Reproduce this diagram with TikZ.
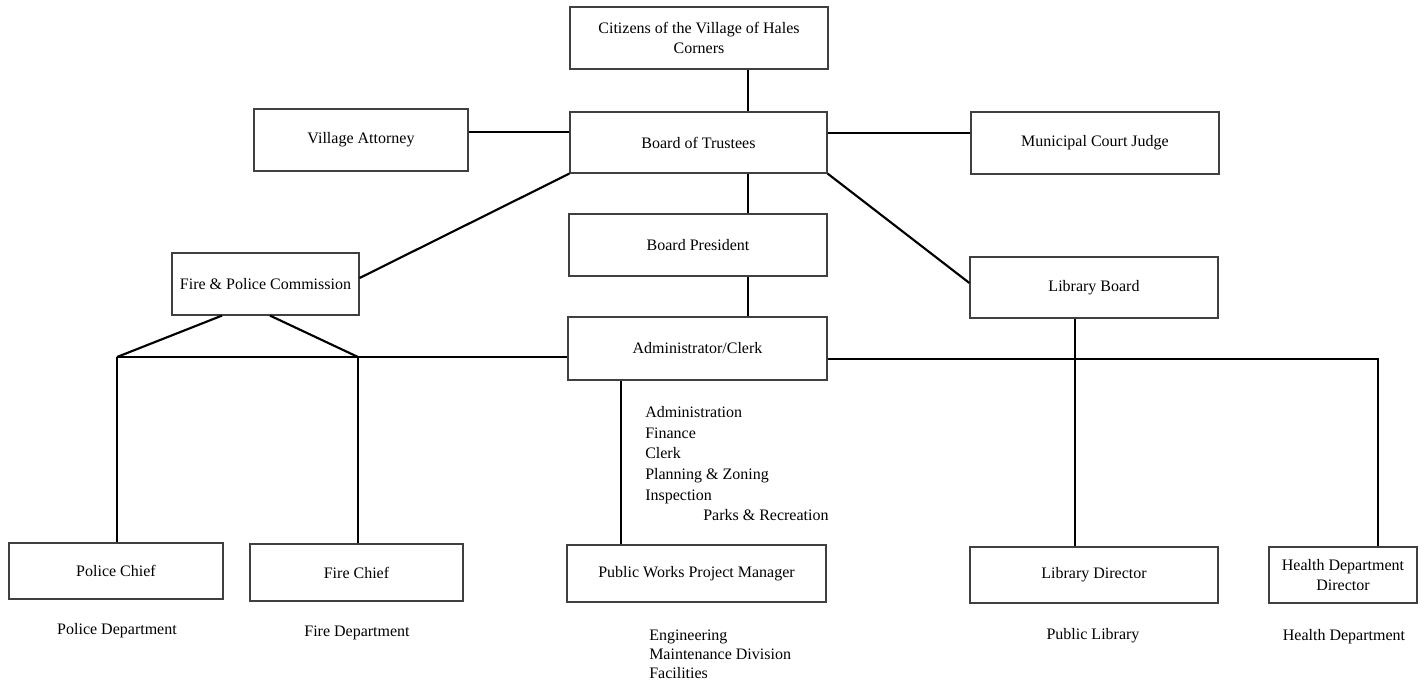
\documentclass[tikz,border=0pt]{standalone}
\usepackage{fontspec}
\setmainfont{Liberation Serif}
\begin{document}
\begin{tikzpicture}[x=0.75pt,y=-0.75pt,
        office/.style={draw=black!75,line width=0.9pt,align=center,inner sep=2pt,font=\fontsize{12}{15.5}\selectfont},
        link/.style={line width=1.6pt,black,line join=miter},
        note/.style={inner sep=0pt,font=\fontsize{12}{15.5}\selectfont}]
        \useasboundingbox (0,0) rectangle (1424,685);
        \coordinate (spine) at (748,0);
        \coordinate (pbus) at (117,357);
        \coordinate (fbus) at (358,357);
        \coordinate (hbus) at (1378,359);
        %
        \node[office,minimum width=193.5pt,minimum height=46.5pt] (citizens) at (699,38) {Citizens of the Village of Hales\\Corners};
        \node[office,minimum width=192.75pt,minimum height=45.75pt] (trustees) at (698.5,142.5) {Board of Trustees};
        \node[office,minimum width=160.5pt,minimum height=46.5pt] (attorney) at (361,140) {Village Attorney};
        \node[office,minimum width=186pt,minimum height=46.5pt] (judge) at (1095,143) {Municipal Court Judge};
        \node[office,minimum width=193.5pt,minimum height=46.5pt] (president) at (698,245) {Board President};
        \node[office,minimum width=140.25pt,minimum height=46.5pt] (commission) at (265.5,284) {Fire \& Police Commission};
        \node[office,minimum width=186pt,minimum height=45.75pt] (libboard) at (1094,287.5) {Library Board};
        \node[office,minimum width=194.25pt,minimum height=47.25pt] (clerk) at (697.5,348.5) {Administrator/Clerk};
        %
        \node[office,minimum width=160.5pt,minimum height=42pt] (police) at (116,571) {Police Chief};
        \node[office,minimum width=159.75pt,minimum height=42.75pt] (fire) at (356.5,572.5) {Fire Chief};
        \node[office,minimum width=194.25pt,minimum height=42.75pt] (works) at (696.5,573.5) {Public Works Project Manager};
        \node[office,minimum width=186pt,minimum height=42pt] (libdir) at (1094,575) {Library Director};
        \node[office,minimum width=111pt,minimum height=42pt] (health) at (1343,575) {Health Department\\Director};
        %
        \node[note,anchor=north west,align=left] (clerkunits) at (645,406) {Administration\\Finance\\Clerk\\Planning \& Zoning\\Inspection\\\hspace*{43.5pt}Parks \& Recreation};
        \node[note,anchor=north west,align=left,font=\fontsize{12}{14.25}\selectfont] (worksunits) at (649,630) {Engineering\\Maintenance Division\\Facilities};
        \node[note] (policedept) at (117,631) {Police Department};
        \node[note] (firedept) at (357,633) {Fire Department};
        \node[note] (library) at (1093,636) {Public Library};
        \node[note] (healthdept) at (1344,637) {Health Department};
        %
        \draw[link] (citizens.south -| spine) -- (trustees.north -| spine);
        \draw[link] (attorney.east |- 0,132) -- (trustees.west |- 0,132);
        \draw[link] (trustees.east |- 0,133) -- (judge.west |- 0,133);
        \draw[link] (trustees.south west) -- (commission.east |- 0,278);
        \draw[link] (trustees.south east) -- (libboard.west |- 0,283);
        \draw[link] (trustees.south -| spine) -- (president.north -| spine);
        \draw[link] (president.south -| spine) -- (clerk.north -| spine);
        %
        \draw[link] (commission.south -| 222,0) -- (pbus);
        \draw[link] (commission.south -| 270,0) -- (fbus);
        \draw[link] (pbus) -- (clerk.west |- pbus);
        \draw[link] (clerk.east |- hbus) -- (hbus) -- (health.north -| hbus);
        \draw[link] (pbus) -- (police.north -| pbus);
        \draw[link] (fbus) -- (fire.north -| fbus);
        \draw[link] (clerk.south -| 621,0) -- (works.north -| 621,0);
        \draw[link] (libboard.south -| 1075,0) -- (libdir.north -| 1075,0);
\end{tikzpicture}
\end{document}
